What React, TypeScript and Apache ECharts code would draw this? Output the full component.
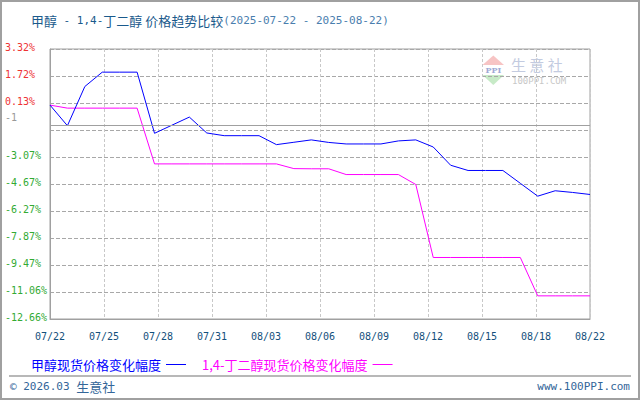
import React, { useEffect, useRef } from 'react';
import * as echarts from 'echarts';

const dates = ['07/22','07/23','07/24','07/25','07/26','07/27','07/28','07/29','07/30','07/31','08/01','08/02','08/03','08/04','08/05','08/06','08/07','08/08','08/09','08/10','08/11','08/12','08/13','08/14','08/15','08/16','08/17','08/18','08/19','08/20','08/21','08/22'];
const methanol = [0, -1.22, 1.10, 1.95, 1.95, 1.95, -1.67, -1.19, -0.71, -1.65, -1.81, -1.81, -1.81, -2.34, -2.20, -2.06, -2.21, -2.30, -2.30, -2.30, -2.12, -2.06, -2.48, -3.56, -3.87, -3.87, -3.87, -4.63, -5.39, -5.07, -5.17, -5.29];
const butanediol = [0, -0.18, -0.18, -0.18, -0.18, -0.18, -3.48, -3.48, -3.48, -3.48, -3.48, -3.48, -3.48, -3.48, -3.76, -3.77, -3.77, -4.11, -4.11, -4.11, -4.11, -4.70, -9.02, -9.02, -9.02, -9.02, -9.02, -9.02, -11.29, -11.29, -11.29, -11.29];
const yTicks = [3.32, 1.72, 0.13, -1.47, -3.07, -4.67, -6.27, -7.87, -9.47, -11.06, -12.66];
const refLine = -1.2;
const refLabel = '-1';
const yLabelValues = [3.32, 1.72, 0.13, refLine, -3.07, -4.67, -6.27, -7.87, -9.47, -11.06, -12.66];
const seriesNames = ['甲醇现货价格变化幅度', '1,4-丁二醇现货价格变化幅度'];
const seriesColors = ['#0000ff', '#ff00ff'];

const MONO = "'DejaVu Sans Mono', 'Noto Sans CJK SC', monospace";
const CJK = "'Noto Sans CJK SC', 'DejaVu Sans', sans-serif";

export default function App() {
  const ref = useRef<HTMLDivElement>(null);
  useEffect(() => {
    document.body.style.margin = '0';
    const chart = echarts.init(ref.current!, null, { renderer: 'svg' });
    const toPairs = (arr: number[]) => arr.map((v, i) => [i, v]);
    const divisions = yTicks.length - 1;
    chart.setOption({
      animation: false,
      backgroundColor: '#ffffff',
      title: {
        left: 26,
        top: 9,
        text: '{c|甲醇}{m| - 1,4-}{c|丁二醇 价格趋势比较}{d|(2025-07-22 - 2025-08-22)}',
        textStyle: {
          fontWeight: 'normal',
          rich: {
            c: { fontFamily: CJK, fontSize: 13, fontWeight: 'normal', color: '#1a5a8c' },
            m: { fontFamily: MONO, fontSize: 11, fontWeight: 'normal', color: '#1a5a8c' },
            d: { fontFamily: MONO, fontSize: 11, fontWeight: 'normal', color: '#4a7eae' },
          },
        },
      },
      legend: {
        left: 26,
        top: 353,
        align: 'right',
        icon: 'rect',
        itemWidth: 20,
        itemHeight: 1,
        itemGap: 16,
        textStyle: { fontFamily: CJK, fontSize: 13 },
        data: [
          { name: seriesNames[0], textStyle: { color: seriesColors[0] } },
          { name: seriesNames[1], textStyle: { color: seriesColors[1] } },
        ],
      },
      grid: {
        left: 50,
        top: 49,
        right: 50,
        bottom: 81,
        show: true,
        borderColor: '#a0a0a0',
        borderWidth: 1,
      },
      xAxis: {
        type: 'value',
        min: 0,
        max: dates.length - 1,
        interval: (dates.length - 1) / 10,
        axisLine: { show: true, onZero: false, lineStyle: { color: '#a0a0a0' } },
        axisTick: { show: false },
        splitLine: { show: true, lineStyle: { color: '#c8c8c8', type: [3, 2] } },
        axisLabel: {
          margin: 12,
          fontFamily: MONO,
          fontSize: 10,
          color: '#134f7c',
          formatter: (v: number) => dates[Math.floor(v + 1e-6)] ?? '',
        },
      },
      yAxis: [
        {
          type: 'value',
          min: yTicks[yTicks.length - 1],
          max: yTicks[0],
          axisLine: { show: true, onZero: false, lineStyle: { color: '#a0a0a0' } },
          axisTick: { show: false },
          splitLine: { show: false },
          axisLabel: {
            customValues: yLabelValues,
            align: 'left',
            margin: 45,
            formatter: (v: number) => {
              if (Math.abs(v - refLine) < 1e-6) return '{g|' + refLabel + '}';
              const s = v.toFixed(2) + '%';
              return v > 0 ? '{r|' + s + '}' : '{n|' + s + '}';
            },
            rich: {
              r: { fontFamily: MONO, fontSize: 10, color: '#ee3333', padding: [0, 0, 3, 0] },
              n: { fontFamily: MONO, fontSize: 10, color: '#33aa33', padding: [0, 0, 3, 0] },
              g: { fontFamily: MONO, fontSize: 10, color: '#999999', padding: [0, 0, 16, 0] },
            },
          },
        },
        {
          type: 'value',
          position: 'right',
          min: 0,
          max: divisions,
          interval: 1,
          axisLine: { show: false },
          axisTick: { show: false },
          axisLabel: { show: false },
          splitLine: { show: true, lineStyle: { color: '#a8a8a8', width: 1, type: 'dashed' } },
        },
      ],
      series: [
        {
          name: seriesNames[0],
          type: 'line',
          data: toPairs(methanol),
          symbol: 'none',
          lineStyle: { color: seriesColors[0], width: 1 },
          itemStyle: { color: seriesColors[0] },
          z: 3,
          markLine: {
            silent: true,
            symbol: 'none',
            label: { show: false },
            lineStyle: { color: '#a0a0a0', width: 1, type: 'solid' },
            data: [{ yAxis: refLine }],
          },
        },
        {
          name: seriesNames[1],
          type: 'line',
          data: toPairs(butanediol),
          symbol: 'none',
          lineStyle: { color: seriesColors[1], width: 1 },
          itemStyle: { color: seriesColors[1] },
          z: 2,
        },
      ],
      graphic: [
        {
          type: 'rect',
          shape: { x: 1, y: 1, width: 638, height: 398 },
          style: { fill: 'none', stroke: '#a0a0a0', lineWidth: 2 },
          silent: true,
        },
        {
          type: 'line',
          shape: { x1: 9, y1: 376, x2: 631, y2: 376 },
          style: { stroke: '#a0a0a0', lineWidth: 1.5 },
          silent: true,
        },
        {
          type: 'text',
          x: 10,
          y: 386,
          style: {
            text: '{m|© 2026.03 }{c|生意社}',
            verticalAlign: 'middle',
            rich: {
              m: { fontFamily: MONO, fontSize: 11, fill: '#336699' },
              c: { fontFamily: CJK, fontSize: 13, fill: '#336699' },
            },
          },
          silent: true,
        },
        {
          type: 'text',
          x: 630,
          y: 386,
          style: {
            text: 'www.100PPI.com',
            align: 'right',
            verticalAlign: 'middle',
            fontFamily: MONO,
            fontSize: 11,
            fill: '#336699',
          },
          silent: true,
        },
        {
          type: 'polygon',
          silent: true,
          shape: { points: [[482.5, 65], [504, 65], [493.3, 55.5]] },
          style: { fill: '#f6baba', opacity: 0.85 },
        },
        {
          type: 'polygon',
          silent: true,
          shape: { points: [[482.5, 75], [504, 75], [493.3, 85]] },
          style: { fill: '#bde6bd', opacity: 0.85 },
        },
        {
          type: 'text',
          silent: true,
          x: 493.3,
          y: 70,
          style: {
            text: 'PPI',
            align: 'center',
            verticalAlign: 'middle',
            fontFamily: "'DejaVu Serif', serif",
            fontWeight: 'bold',
            fontSize: 8,
            fill: '#9ea8d4',
          },
        },
        {
          type: 'text',
          silent: true,
          x: 511,
          y: 64,
          style: {
            text: '生 意 社',
            verticalAlign: 'middle',
            fontFamily: CJK,
            fontSize: 15,
            lineHeight: 15,
            fill: '#c3cbe0',
          },
        },
        {
          type: 'text',
          silent: true,
          x: 512,
          y: 81,
          style: {
            text: '100PPI.COM',
            verticalAlign: 'middle',
            fontFamily: MONO,
            fontSize: 9,
            lineHeight: 9,
            fill: '#c8c8c8',
          },
        },
      ],
    });
    return () => chart.dispose();
  }, []);
  return <div ref={ref} style={{ width: 640, height: 400 }} />;
}
